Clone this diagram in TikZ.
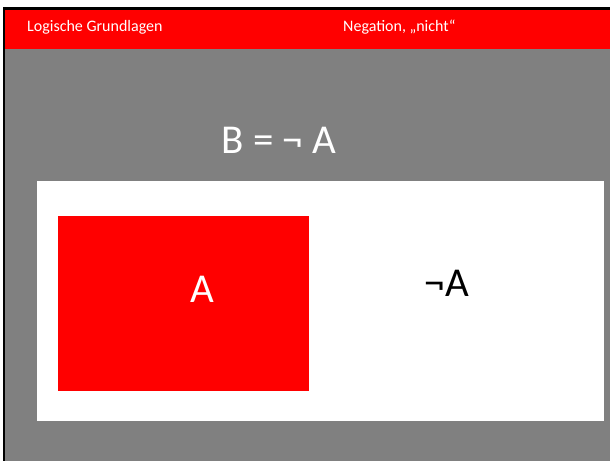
\documentclass[tikz,border=0pt]{standalone}
\usepackage{fontspec}
\setmainfont{Carlito}
\definecolor{slidegray}{RGB}{128,128,128}
\definecolor{slidered}{RGB}{255,0,0}
\begin{document}
\begin{tikzpicture}[x=1pt,y=-1pt,
  hdr/.style={text=white,font=\fontsize{16}{19}\selectfont,anchor=west,inner sep=0},
  big/.style={font=\fontsize{41}{48}\selectfont,inner sep=0}]
\useasboundingbox (0,0) rectangle (610,461);
\fill[white] (0,0) rectangle (610,461);
\fill[black] (3,7) rectangle (610,461);
\fill[slidered] (5,9.5) rectangle (610,49);
\fill[slidegray] (5,49) rectangle (610,461);
\node[hdr] (t1) at (27,27) {Logische Grundlagen};
\node[hdr] (t2) at (343,27) {Negation, „nicht“};
\node[big,text=white] (eq) at (279,140) {B = ¬ A};
\node[fill=white,minimum width=567,minimum height=240,inner sep=0,anchor=north west] (box) at (37,181) {};
\node[fill=slidered,minimum width=251,minimum height=175,inner sep=0,anchor=north west] (ra) at (58,216) {};
\node[big,text=white] (a) at (202,289) {A};
\node[big,text=black] (na) at (447,283) {¬A};
\end{tikzpicture}
\end{document}
